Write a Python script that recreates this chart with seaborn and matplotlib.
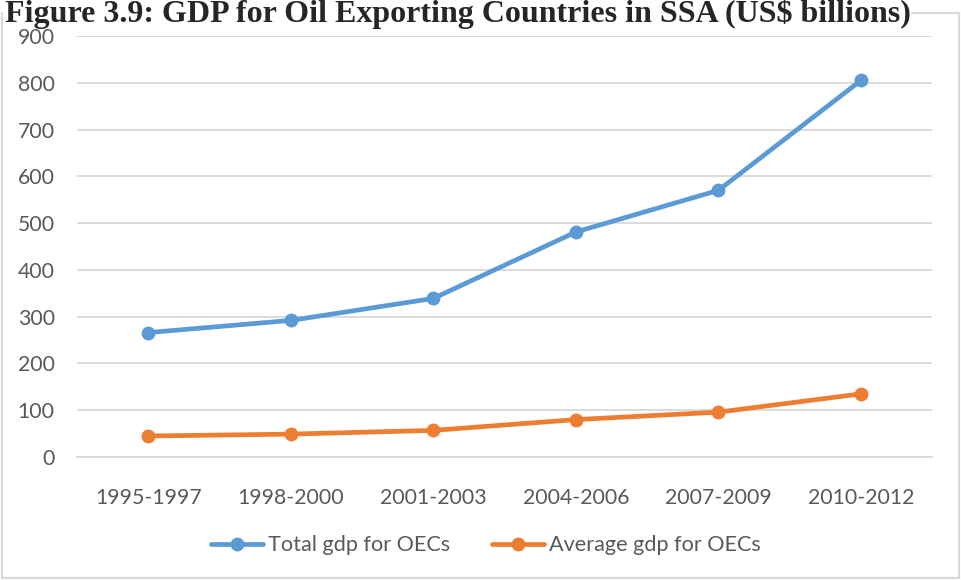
import pandas as pd
import seaborn as sns
import matplotlib.pyplot as plt
from matplotlib.lines import Line2D

# values (US$ billions)
periods = ['1995-1997', '1998-2000', '2001-2003', '2004-2006', '2007-2009', '2010-2012']
total_gdp = [266, 292, 339, 481, 570, 805]
average_gdp = [45, 49, 57, 80, 96, 135]
y_ticks = [0, 100, 200, 300, 400, 500, 600, 700, 800, 900]

df = pd.DataFrame({
    'Period': periods * 2,
    'GDP': total_gdp + average_gdp,
    'Series': ['Total gdp for OECs'] * 6 + ['Average gdp for OECs'] * 6,
})

sns.set_style('white')
plt.rcParams['font.family'] = ['Lato', 'DejaVu Sans']

fig = plt.figure(figsize=(9.62, 5.8), dpi=100)
# chart frame; the top edge only shows to the right of the title
W, H = 962, 580
frame = [([2, 2], [2, 567]), ([2, 959], [2, 2]), ([959, 959], [2, 567]), ([912, 959], [567, 567])]
for xs, ys in frame:
    fig.add_artist(Line2D([x / W for x in xs], [y / H for y in ys], transform=fig.transFigure,
                          color='#d9d9d9', linewidth=1.5))
ax = fig.add_axes([0.080, 0.212, 0.889, 0.726])

palette = {'Total gdp for OECs': '#5b9bd5', 'Average gdp for OECs': '#ed7d31'}
sns.lineplot(data=df, x='Period', y='GDP', hue='Series', palette=palette, ax=ax,
             marker='o', markersize=10, markeredgewidth=0, linewidth=3.4,
             sort=False, legend=True)

ax.set_xlim(-0.5, 5.5)
ax.set_ylim(0, 900)
ax.set_yticks(y_ticks)
ax.yaxis.grid(True, color='#d9d9d9', linewidth=1.3)
ax.set_axisbelow(True)
for s in ['top', 'right', 'left']:
    ax.spines[s].set_visible(False)
ax.spines['bottom'].set_color('#d9d9d9')
ax.spines['bottom'].set_linewidth(1.3)
ax.tick_params(axis='both', length=0, labelsize=15.3, labelcolor='#595959')
ax.tick_params(axis='x', pad=22)
ax.tick_params(axis='y', pad=16)
ax.set_xlabel('')
ax.set_ylabel('')

leg = ax.legend(loc='upper center', bbox_to_anchor=(0.478, -0.14), ncol=2, frameon=False,
                fontsize=15.6, handlelength=2.4, handletextpad=0.25, columnspacing=1.9,
                labelcolor='#595959')
for h in leg.get_lines():
    h.set_linewidth(3.4)
    h.set_markersize(10)

fig.text(0.476, 1 - 22 / 580, 'Figure 3.9: GDP for Oil Exporting Countries in SSA (US$ billions)',
         ha='center', va='baseline', fontsize=23, fontweight='bold',
         family=['Liberation Serif', 'DejaVu Serif'])

fig.savefig('out.png', dpi=100)
